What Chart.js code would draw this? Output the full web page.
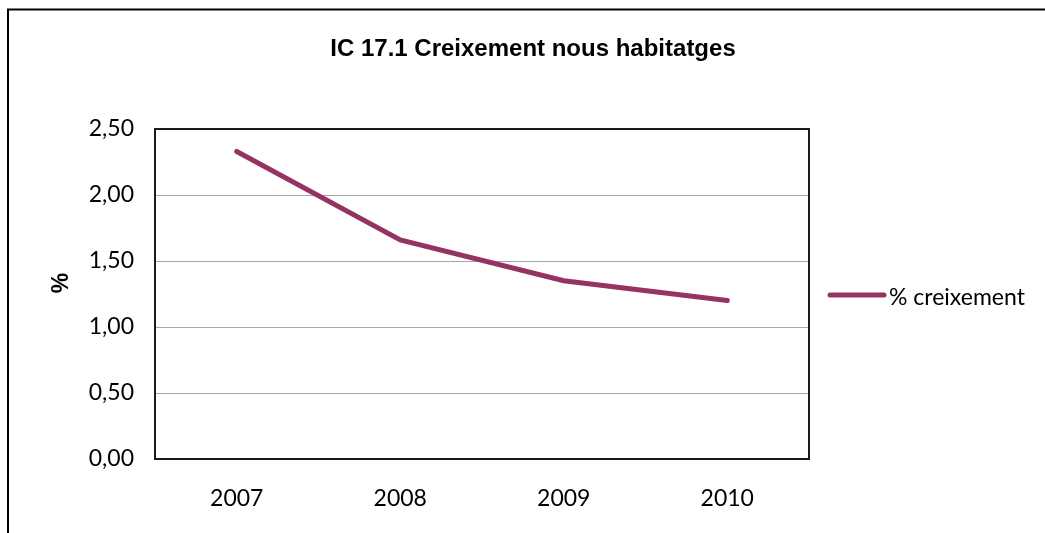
<!DOCTYPE html>
<html>
<head>
<meta charset="utf-8">
<title>IC 17.1 Creixement nous habitatges</title>
<script src="https://cdn.jsdelivr.net/npm/chart.js@4/dist/chart.umd.min.js"></script>
<style>
  html, body { margin: 0; padding: 0; background: #fff; }
  #wrap { width: 1045px; height: 533px; }
</style>
</head>
<body>
<div id="wrap"><canvas id="chart" width="1045" height="533"></canvas></div>
<script>
// dades
const anys = ['2007', '2008', '2009', '2010'];
const creixement = [2.33, 1.66, 1.35, 1.20];
const titol = 'IC 17.1 Creixement nous habitatges';
const serieNom = '% creixement';
const eixY = '%';

const color = '#953463';
const labelFont = { family: 'Lato', size: 23 };

// marc exterior, vora del quadre de traçat i llegenda
const extras = {
  id: 'extras',
  beforeDraw(chart) {
    const c = chart.ctx;
    c.save();
    c.fillStyle = '#fff';
    c.fillRect(0, 0, chart.width, chart.height);
    c.strokeStyle = '#000';
    c.lineWidth = 2;
    c.beginPath();
    c.moveTo(8, chart.height);
    c.lineTo(8, 9.5);
    c.lineTo(chart.width, 9.5);
    c.stroke();
    c.restore();
  },
  afterDraw(chart) {
    const c = chart.ctx;
    const a = chart.chartArea;
    c.save();
    c.strokeStyle = '#1a1a1a';
    c.lineWidth = 2;
    c.strokeRect(a.left, a.top, a.right - a.left, a.bottom - a.top);

    // títol
    c.fillStyle = '#000';
    c.font = 'bold 24px "Liberation Sans", Arial, sans-serif';
    c.textAlign = 'center';
    c.textBaseline = 'middle';
    c.fillText(titol, 533, 49);

    // títol de l'eix Y
    c.font = 'bold 23px "Liberation Sans", Arial, sans-serif';
    c.translate(62, 283);
    c.rotate(-Math.PI / 2);
    c.fillText(eixY, 0, 0);
    c.setTransform(1, 0, 0, 1, 0, 0);

    // llegenda
    c.strokeStyle = color;
    c.lineWidth = 5;
    c.lineCap = 'round';
    c.beginPath();
    c.moveTo(830, 295);
    c.lineTo(884, 295);
    c.stroke();
    c.font = '23px Lato';
    c.textAlign = 'left';
    c.fillText(serieNom, 889, 298);
    c.restore();
  }
};

new Chart(document.getElementById('chart'), {
  type: 'line',
  data: {
    labels: anys,
    datasets: [{
      label: serieNom,
      data: creixement,
      borderColor: color,
      backgroundColor: color,
      borderWidth: 5,
      borderCapStyle: 'round',
      pointRadius: 0,
      tension: 0
    }]
  },
  options: {
    responsive: false,
    animation: false,
    layout: { padding: { left: 0, right: 236, top: 129, bottom: 0 } },
    plugins: {
      legend: { display: false },
      title: { display: false },
      tooltip: { enabled: false }
    },
    scales: {
      x: {
        offset: true,
        grid: { display: false, drawTicks: false },
        border: { display: false },
        ticks: { color: '#000', font: labelFont, padding: 26 },
        afterFit(s) { s.height = 74; }
      },
      y: {
        min: 0,
        max: 2.5,
        grid: { color: '#a6a6a6', lineWidth: 1, drawTicks: false },
        border: { display: false },
        ticks: {
          stepSize: 0.5,
          color: '#000',
          font: labelFont,
          padding: 21,
          callback: v => v.toFixed(2).replace('.', ',')
        },
        afterFit(s) { s.width = 155; }
      }
    }
  },
  plugins: [extras]
});
</script>
</body>
</html>
